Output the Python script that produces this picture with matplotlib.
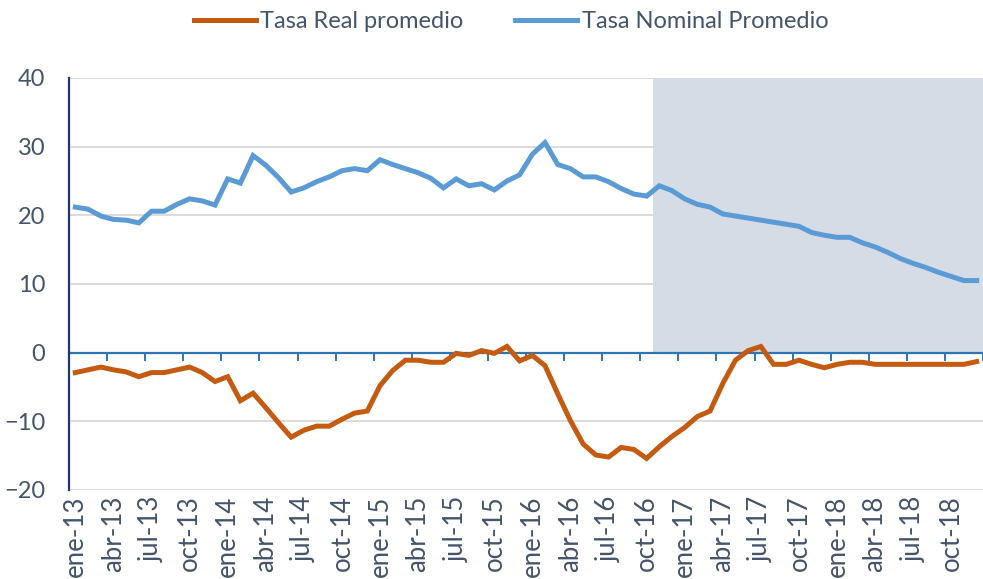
#!/usr/bin/env python3
"""Tasa real vs nominal promedio, ene-13 a dic-18 (monthly)."""

import matplotlib
matplotlib.use("Agg")
import matplotlib.pyplot as plt
import numpy as np

plt.rcParams["font.family"] = ["Lato", "DejaVu Sans"]

TEXT = "#44546A"
ORANGE = "#C55A11"
BLUE = "#5B9BD5"
SHADE = "#D6DCE5"
GRID = "#D9D9D9"

MONTHS = ["ene", "feb", "mar", "abr", "may", "jun", "jul", "ago", "sep", "oct", "nov", "dic"]
YEARS = ["13", "14", "15", "16", "17", "18"]
periods = [f"{m}-{y}" for y in YEARS for m in MONTHS]

# values, one per month
tasa_nominal = [
    21.2, 20.9, 19.9, 19.4, 19.3, 18.9, 20.6, 20.6, 21.6, 22.4, 22.1, 21.5,
    25.3, 24.7, 28.7, 27.3, 25.5, 23.4, 24.0, 24.9, 25.6, 26.5, 26.8, 26.5,
    28.1, 27.4, 26.8, 26.2, 25.4, 24.0, 25.3, 24.3, 24.6, 23.7, 25.0, 25.9,
    28.9, 30.6, 27.4, 26.8, 25.6, 25.6, 24.9, 23.9, 23.1, 22.8, 24.3, 23.6,
    22.4, 21.6, 21.2, 20.2, 19.9, 19.6, 19.3, 19.0, 18.7, 18.4, 17.5, 17.1,
    16.8, 16.8, 16.0, 15.4, 14.6, 13.7, 13.0, 12.4, 11.7, 11.1, 10.5, 10.5,
]
tasa_real = [
    -2.9, -2.5, -2.1, -2.5, -2.8, -3.5, -2.9, -2.9, -2.5, -2.1, -2.9, -4.2,
    -3.5, -7.0, -5.9, -8.0, -10.2, -12.3, -11.3, -10.7, -10.7, -9.7, -8.8, -8.5,
    -4.8, -2.6, -1.1, -1.1, -1.4, -1.4, -0.1, -0.4, 0.3, -0.1, 0.9, -1.2,
    -0.4, -1.9, -6.0, -9.9, -13.3, -14.9, -15.2, -13.8, -14.1, -15.4, -13.7, -12.2,
    -10.9, -9.3, -8.5, -4.5, -1.1, 0.3, 0.9, -1.7, -1.7, -1.1, -1.7, -2.2,
    -1.7, -1.4, -1.4, -1.7, -1.7, -1.7, -1.7, -1.7, -1.7, -1.7, -1.7, -1.3,
]
# projection period (shaded), from nov-16 onwards
shade_start = "nov-16"

x = np.arange(len(periods))
i0 = periods.index(shade_start)

fig = plt.figure(figsize=(9.83, 5.79), dpi=100)
ax = fig.add_axes([69 / 983, 1 - 490 / 579, (983 - 69) / 983, 412 / 579])
ax.set_xlim(-0.5, 70.8)
ax.set_ylim(-20, 40)

ax.fill_between([i0 - 0.5, len(periods)], 0, 40, color=SHADE, lw=0, zorder=1)
ax.plot(x, tasa_real, color=ORANGE, lw=3.6, solid_joinstyle="miter", zorder=3,
        label="Tasa Real promedio")
ax.plot(x, tasa_nominal, color=BLUE, lw=3.6, solid_joinstyle="miter", zorder=3,
        label="Tasa Nominal Promedio")

ax.set_yticks([-20, -10, 0, 10, 20, 30, 40])
for v in [-20, -10, 10, 20, 30, 40]:
    ax.axhline(v, color=GRID, lw=1.3, zorder=0)
ax.tick_params(axis="y", length=0, pad=17, labelsize=17, labelcolor=TEXT)

for s in ["top", "right"]:
    ax.spines[s].set_visible(False)
ax.spines["left"].set_color("#203864")
ax.spines["left"].set_linewidth(1.6)
ax.spines["bottom"].set_position(("data", 0))
ax.spines["bottom"].set_color("#2E75B6")
ax.spines["bottom"].set_linewidth(1.6)
ax.spines["bottom"].set_zorder(2)

# tick marks between categories every 3 months on the zero line
ax.set_xticks(np.arange(2.5, len(periods), 3))
ax.set_xticklabels([])
ax.tick_params(axis="x", direction="out", length=6, width=1.4, color="#2E75B6")

# category labels below the plot
sec = ax.secondary_xaxis("bottom")
sec.set_xticks(x[::3])
sec.set_xticklabels(periods[::3], rotation=90, va="top", ha="center")
sec.tick_params(length=0, pad=4, labelsize=18.5, labelcolor=TEXT)
sec.spines["bottom"].set_visible(False)

handles, labels = ax.get_legend_handles_labels()
fig.legend(handles, labels, loc="center", bbox_to_anchor=(0.52, 0.963), ncol=2,
           frameon=False, fontsize=17, labelcolor=TEXT, handlelength=2.6,
           handletextpad=0.2, columnspacing=2.2)

fig.savefig("out.png", dpi=100)
